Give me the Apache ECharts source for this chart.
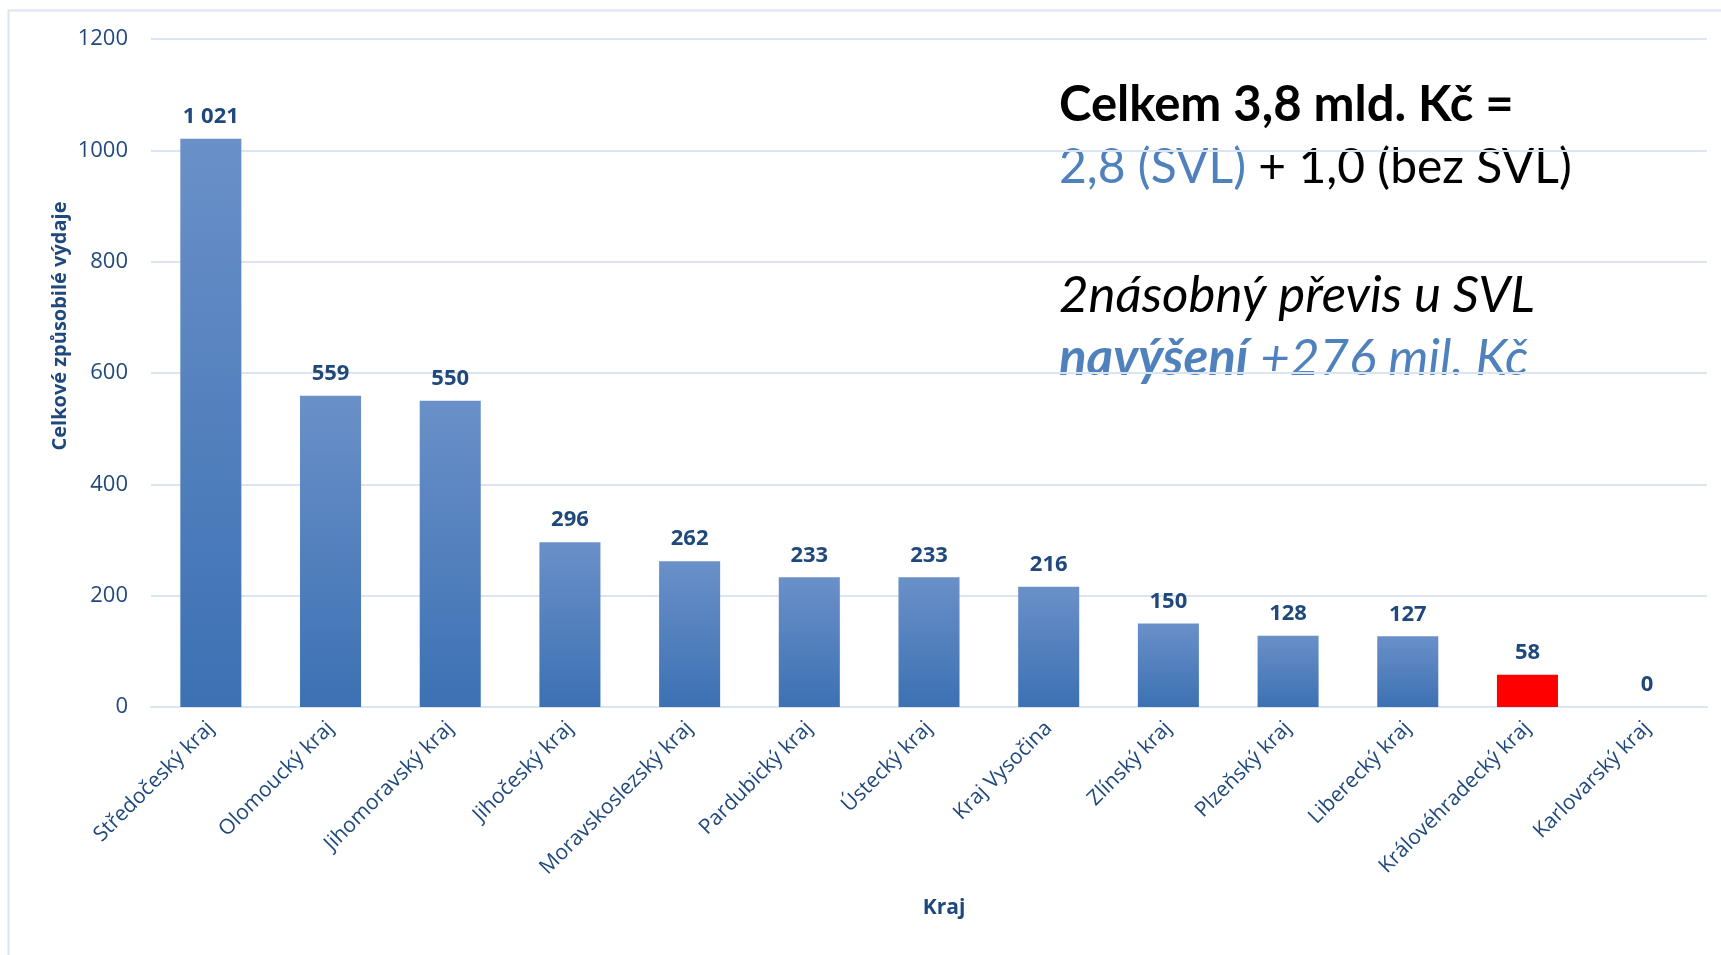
<!DOCTYPE html>
<html>
<head>
<meta charset="utf-8">
<title>Celkové způsobilé výdaje podle krajů</title>
<script src="https://cdn.jsdelivr.net/npm/echarts@6/dist/echarts.min.js"></script>
<style>
    html, body { margin: 0; padding: 0; background: #fff; }
    .chart { width: 1721px; height: 955px; }
</style>
</head>
<body>
<div class="chart"></div>
<script>
// data
var kraje = ['Středočeský kraj', 'Olomoucký kraj', 'Jihomoravský kraj', 'Jihočeský kraj',
    'Moravskoslezský kraj', 'Pardubický kraj', 'Ústecký kraj', 'Kraj Vysočina', 'Zlínský kraj',
    'Plzeňský kraj', 'Liberecký kraj', 'Královéhradecký kraj', 'Karlovarský kraj'];
var vydaje = [1021, 559, 550, 296, 262, 233, 233, 216, 150, 128, 127, 58, 0];
var zvyraznenyKraj = 'Královéhradecký kraj';

var tmava = '#1f497d';
var svetla = '#4f81bd';
var mrizka = '#dbe5f1';

var myChart = echarts.init(document.querySelector('.chart'));

var modry = new echarts.graphic.LinearGradient(0, 0, 0, 1, [
    { offset: 0, color: '#6a90c8' },
    { offset: 1, color: '#3c71b3' }
]);

var data = vydaje.map(function (v, i) {
    return {
        value: v,
        itemStyle: { color: kraje[i] === zvyraznenyKraj ? '#ff0000' : modry }
    };
});

var option = {
    textStyle: { fontFamily: 'Open Sans' },
    grid: { left: 151, right: 14, top: 39, bottom: 248 },
    xAxis: {
        type: 'category',
        data: kraje,
        axisLine: { lineStyle: { color: mrizka, width: 2 } },
        axisTick: { show: false },
        axisLabel: {
            interval: 0,
            rotate: 45,
            margin: 18,
            color: tmava,
            fontSize: 21
        }
    },
    yAxis: {
        type: 'value',
        min: 0,
        max: 1200,
        interval: 200,
        axisLine: { show: false },
        axisTick: { show: false },
        axisLabel: {
            color: tmava,
            fontSize: 22,
            margin: 23,
            formatter: function (v) { return String(v); }
        },
        splitLine: { lineStyle: { color: mrizka, width: 2 } }
    },
    series: [{
        type: 'bar',
        data: data,
        barCategoryGap: '49%',
        label: {
            show: true,
            position: 'top',
            distance: 11,
            color: tmava,
            fontSize: 22,
            fontWeight: 'bold',
            formatter: function (p) {
                // mezera jako oddělovač tisíců
                return String(p.value).replace(/\B(?=(\d{3})+(?!\d))/g, ' ');
            }
        }
    }],
    graphic: [
        // rámeček
        {
            type: 'rect',
            shape: { x: 8.5, y: 10.5, width: 2000, height: 2000 },
            style: { fill: 'none', stroke: mrizka, lineWidth: 2 },
            silent: true
        },
        // název osy y
        {
            type: 'text',
            x: 60, y: 326,
            rotation: Math.PI / 2,
            style: {
                text: 'Celkové způsobilé výdaje',
                fill: tmava,
                font: 'bold 20px "Open Sans"',
                align: 'center',
                verticalAlign: 'middle'
            }
        },
        // název osy x
        {
            type: 'text',
            x: 944, y: 908,
            style: {
                text: 'Kraj',
                fill: tmava,
                font: 'bold 21px "Open Sans"',
                align: 'center',
                verticalAlign: 'middle'
            }
        },
        // komentář vpravo nahoře
        {
            type: 'text',
            x: 1059, y: 105,
            style: {
                text: 'Celkem 3,8 mld. Kč =',
                fill: '#000',
                font: 'bold 49px Lato',
                verticalAlign: 'middle'
            }
        },
        {
            type: 'text',
            x: 1059, y: 168,
            style: {
                text: '{a|2,8 (SVL)}{b| + 1,0 (bez SVL)}',
                verticalAlign: 'middle',
                rich: {
                    a: { fill: svetla, font: '48px Lato' },
                    b: { fill: '#000', font: '48px Lato' }
                }
            }
        },
        {
            type: 'text',
            x: 1059, y: 296,
            style: {
                text: '2násobný převis u SVL',
                fill: '#000',
                font: 'italic 51px Lato',
                verticalAlign: 'middle'
            }
        },
        {
            type: 'text',
            x: 1059, y: 359,
            style: {
                text: '{a|navýšení}{b| +276 mil. Kč}',
                verticalAlign: 'middle',
                rich: {
                    a: { fill: svetla, font: 'italic bold 51px Lato' },
                    b: { fill: svetla, font: 'italic 51px Lato' }
                }
            }
        }
    ]
};

myChart.setOption(option);
</script>
</body>
</html>
